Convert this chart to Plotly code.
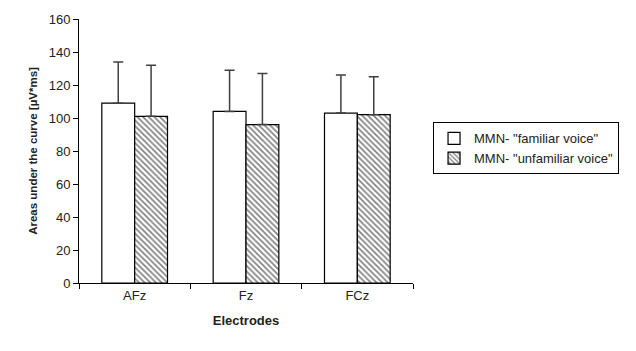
import plotly.graph_objects as go

electrodes = ["AFz", "Fz", "FCz"]
familiar = [109, 104, 103]
familiar_err = [25, 25, 23]
unfamiliar = [101, 96, 102]
unfamiliar_err = [31, 31, 23]
series_names = ['MMN- "familiar voice"', 'MMN- "unfamiliar voice"']
y_ticks = [0, 20, 40, 60, 80, 100, 120, 140, 160]

font_main = "Liberation Sans, Arial, sans-serif"

fig = go.Figure()
fig.add_trace(go.Bar(
    x=electrodes, y=familiar, name=series_names[0],
    marker=dict(color="white", line=dict(color="black", width=1.2)),
    error_y=dict(type="data", array=familiar_err, symmetric=False,
                 arrayminus=[0, 0, 0], color="#404040", thickness=1.5, width=5),
))
fig.add_trace(go.Bar(
    x=electrodes, y=unfamiliar, name=series_names[1],
    marker=dict(color="white", line=dict(color="black", width=1.2),
                pattern=dict(shape="\\", fgcolor="black", bgcolor="white",
                             size=4, solidity=0.4)),
    error_y=dict(type="data", array=unfamiliar_err, symmetric=False,
                 arrayminus=[0, 0, 0], color="#404040", thickness=1.5, width=5),
))

fig.update_layout(
    width=636, height=351,
    margin=dict(l=79, r=223, t=15, b=68),
    paper_bgcolor="white", plot_bgcolor="white",
    barmode="group", bargap=0.41, bargroupgap=0,
    font=dict(family=font_main, color="#222", size=13),
    showlegend=True,
    legend=dict(x=1.06, y=0.51, xanchor="left", yanchor="middle",
                bordercolor="black", borderwidth=1, bgcolor="white",
                font=dict(size=13, family=font_main), tracegroupgap=2,
                itemwidth=30),
    xaxis=dict(
        showline=True, linecolor="black", linewidth=1,
        ticks="outside", tickson="boundaries", ticklen=5, tickcolor="black",
        tickfont=dict(size=13),
        title=dict(text="<b>Electrodes</b>", font=dict(size=13), standoff=14),
    ),
    yaxis=dict(
        range=[0, 160], tickvals=y_ticks, showgrid=False, zeroline=False,
        showline=True, linecolor="black", linewidth=1,
        ticks="outside", ticklen=5, tickcolor="black",
        tickfont=dict(size=13),
        title=dict(text="<b>Areas under the curve [µV*ms]</b>", font=dict(size=11.5), standoff=8),
    ),
)

fig.write_html("out.html")
